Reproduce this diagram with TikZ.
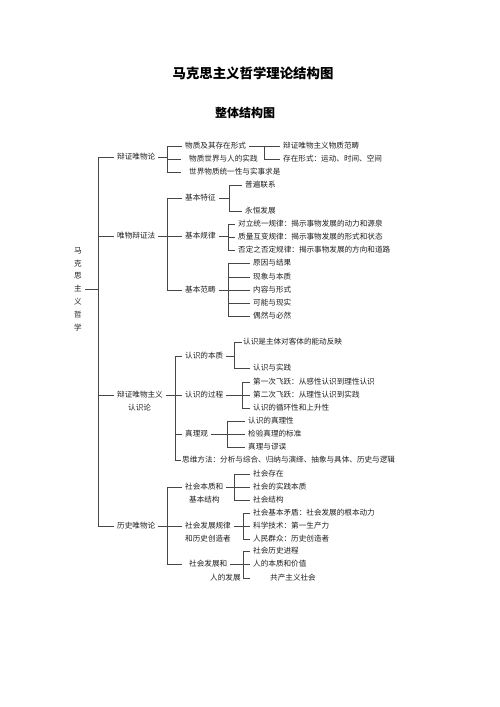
\documentclass[tikz,border=0pt]{standalone}
\usepackage{fontspec}
\newfontfamily\cjk{Noto Sans CJK SC}

\tikzset{
  lbl/.style={anchor=west, inner xsep=3pt, inner ysep=0pt, text height=6.2pt, text depth=0.6pt, text=black!88, font=\cjk\fontsize{7.6}{9}\selectfont},
  conn/.style={draw=black!72, line width=0.7pt},
}

\begin{document}
\begin{tikzpicture}[x=1pt,y=1pt,yscale=-1,xscale=1]
\useasboundingbox (0,0) rectangle (500,707);

% Text Node
\node [font=\cjk\bfseries\fontsize{13.4}{16}\selectfont] (title) at (253,73) {马克思主义哲学理论结构图};
% Text Node
\node [font=\cjk\bfseries\fontsize{12}{14}\selectfont] (subtitle) at (245,113) {整体结构图};
% Text Node
\node [align=center, inner sep=3pt, text=black!88, font=\cjk\fontsize{7.6}{12.8}\selectfont] (root) at (78,289) {马\\克\\思\\主\\义\\哲\\学};

% Text Node
\node [lbl] (dwl) at (114,157) {辩证唯物论};
\node [lbl] (wbf) at (114,236) {唯物辩证法};
\node [lbl] (rsl) at (114,395) {辩证唯物主义};
\node [lbl] (rslb) at (125,408) {认识论};
\node [lbl] (lsw) at (114,526) {历史唯物论};

% Text Node
\node [lbl] (wz) at (182,146) {物质及其存在形式};
\node [lbl] (wsj) at (186,159) {物质世界与人的实践};
\node [lbl] (wty) at (186,172) {世界物质统一性与实事求是};
\node [lbl] (fc) at (280,146) {辩证唯物主义物质范畴};
\node [lbl] (cz) at (280,159) {存在形式：运动、时间、空间};

% Text Node
\node [lbl] (tz) at (182,198) {基本特征};
\node [lbl] (gl) at (182,236) {基本规律};
\node [lbl] (fcb) at (182,290) {基本范畴};
\node [lbl] (pb) at (242,185) {普遍联系};
\node [lbl] (yh) at (242,211) {永恒发展};
\node [lbl] (dl) at (235,224) {对立统一规律：揭示事物发展的动力和源泉};
\node [lbl] (zb) at (235,237) {质量互变规律：揭示事物发展的形式和状态};
\node [lbl] (fd) at (235,250) {否定之否定规律：揭示事物发展的方向和道路};
\node [lbl] (yy) at (250,263) {原因与结果};
\node [lbl] (xx) at (250,277) {现象与本质};
\node [lbl] (nr) at (250,290) {内容与形式};
\node [lbl] (kn) at (250,303) {可能与现实};
\node [lbl] (oy) at (250,316) {偶然与必然};

% Text Node
\node [lbl] (bz) at (182,356) {认识的本质};
\node [lbl] (gc) at (182,395) {认识的过程};
\node [lbl] (zlg) at (182,434) {真理观};
\node [lbl] (swf) at (179,460) {思维方法：分析与综合、归纳与演绎、抽象与具体、历史与逻辑};
\node [lbl] (nd) at (240,342) {认识是主体对客体的能动反映};
\node [lbl] (rsj) at (250,368) {认识与实践};
\node [lbl] (dyc) at (250,382) {第一次飞跃：从感性认识到理性认识};
\node [lbl] (dec) at (250,395) {第二次飞跃：从理性认识到实践};
\node [lbl] (xh) at (250,408) {认识的循环性和上升性};
\node [lbl] (zlx) at (245,421) {认识的真理性};
\node [lbl] (jy) at (245,434) {检验真理的标准};
\node [lbl] (zm) at (245,447) {真理与谬误};

% Text Node
\node [lbl] (bzj) at (182,487) {社会本质和};
\node [lbl] (bzjb) at (186,500) {基本结构};
\node [lbl] (gz) at (182,526) {社会发展规律};
\node [lbl] (gzb) at (182,539) {和历史创造者};
\node [lbl] (fz) at (186,564) {社会发展和};
\node [lbl] (fzb) at (207,578) {人的发展};
\node [lbl] (shcz) at (250,474) {社会存在};
\node [lbl] (sjbz) at (250,487) {社会的实践本质};
\node [lbl] (shjg) at (250,500) {社会结构};
\node [lbl] (jbmd) at (250,513) {社会基本矛盾：社会发展的根本动力};
\node [lbl] (kxjs) at (250,526) {科学技术：第一生产力};
\node [lbl] (rmqz) at (250,539) {人民群众：历史创造者};
\node [lbl] (lsjc) at (250,551) {社会历史进程};
\node [lbl] (bzjz) at (250,564) {人的本质和价值};
\node [lbl] (gczy) at (267,578) {共产主义社会};

%Bracket columns
\coordinate (trunk) at (98,0);
\coordinate (bA) at (167,0);
\coordinate (bB) at (264,0);
\coordinate (bD) at (229,0);
\coordinate (bE) at (228,0);
\coordinate (bG) at (175,0);
\coordinate (bH) at (234,0);
\coordinate (bI) at (242,0);
\coordinate (bJ) at (227,0);
\coordinate (bM) at (243,0);

%Straight Lines: trunk
\draw [conn] (trunk |- dwl.west) -- (trunk |- lsw.west) ;
\draw [conn] (root.east) -- (trunk |- root.east) ;
\draw [conn] (trunk |- dwl.west) -- (dwl.west) (trunk |- wbf.west) -- (wbf.west) (trunk |- rsl.west) -- (rsl.west) (trunk |- lsw.west) -- (lsw.west) ;

%Straight Lines: 辩证唯物论
\draw [conn] (dwl.east) -- (bA |- dwl.east) ;
\draw [conn] (bA |- wz.west) -- (bA |- wty.west) ;
\draw [conn] (bA |- wz.west) -- (wz.west) (bA |- wsj.west) -- ([xshift=-5pt]wsj.west) (bA |- wty.west) -- ([xshift=-5pt]wty.west) ;
\draw [conn] (wz.east) -- (bB |- wz.east) ;
\draw [conn] (bB |- fc.west) -- (bB |- cz.west) ;
\draw [conn] (bB |- fc.west) -- (fc.west) (bB |- cz.west) -- (cz.west) ;

%Straight Lines: 唯物辩证法
\draw [conn] (wbf.east) -- (bA |- wbf.east) ;
\draw [conn] (bA |- tz.west) -- (bA |- fcb.west) ;
\draw [conn] (bA |- tz.west) -- (tz.west) (bA |- gl.west) -- (gl.west) (bA |- fcb.west) -- (fcb.west) ;
\draw [conn] (tz.east) -- (bD |- tz.east) ;
\draw [conn] (bD |- pb.west) -- (bD |- yh.west) ;
\draw [conn] (bD |- pb.west) -- (pb.west) (bD |- yh.west) -- (yh.west) ;
\draw [conn] (gl.east) -- (bE |- gl.east) ;
\draw [conn] (bE |- dl.west) -- (bE |- fd.west) ;
\draw [conn] (bE |- dl.west) -- (dl.west) (bE |- zb.west) -- (zb.west) (bE |- fd.west) -- (fd.west) ;
\draw [conn] (fcb.east) -- (bE |- fcb.east) ;
\draw [conn] (bE |- yy.west) -- (bE |- oy.west) ;
\draw [conn] (bE |- yy.west) -- (yy.west) (bE |- xx.west) -- (xx.west) (bE |- nr.west) -- (nr.west) (bE |- kn.west) -- (kn.west) (bE |- oy.west) -- (oy.west) ;

%Straight Lines: 辩证唯物主义认识论
\draw [conn] (rsl.east) -- (bG |- rsl.east) ;
\draw [conn] (bG |- bz.west) -- (bG |- swf.west) ;
\draw [conn] (bG |- bz.west) -- (bz.west) (bG |- gc.west) -- (gc.west) (bG |- zlg.west) -- (zlg.west) (bG |- swf.west) -- ([xshift=2pt]swf.west) ;
\draw [conn] (bz.east) -- (bH |- bz.east) ;
\draw [conn] (bH |- nd.west) -- (bH |- rsj.west) ;
\draw [conn] (bH |- nd.west) -- ([xshift=2pt]nd.west) (bH |- rsj.west) -- (rsj.west) ;
\draw [conn] (gc.east) -- (bI |- gc.east) ;
\draw [conn] (bI |- dyc.west) -- (bI |- xh.west) ;
\draw [conn] (bI |- dyc.west) -- (dyc.west) (bI |- dec.west) -- (dec.west) (bI |- xh.west) -- (xh.west) ;
\draw [conn] (zlg.east) -- (bJ |- zlg.east) ;
\draw [conn] (bJ |- zlx.west) -- (bJ |- zm.west) ;
\draw [conn] (bJ |- zlx.west) -- (zlx.west) (bJ |- jy.west) -- (jy.west) (bJ |- zm.west) -- (zm.west) ;

%Straight Lines: 历史唯物论
\draw [conn] (lsw.east) -- (bA |- lsw.east) ;
\draw [conn] (bA |- bzj.west) -- (bA |- fz.west) ;
\draw [conn] (bA |- bzj.west) -- (bzj.west) (bA |- gz.west) -- (gz.west) (bA |- fz.west) -- ([xshift=-4pt]fz.west) ;
\draw [conn] (bzj.east) -- (bH |- bzj.east) ;
\draw [conn] (bH |- shcz.west) -- (bH |- shjg.west) ;
\draw [conn] (bH |- shcz.west) -- (shcz.west) (bH |- sjbz.west) -- (sjbz.west) (bH |- shjg.west) -- (shjg.west) ;
\draw [conn] (gz.east) -- (bM |- gz.east) ;
\draw [conn] (bM |- jbmd.west) -- (bM |- rmqz.west) ;
\draw [conn] (bM |- jbmd.west) -- (jbmd.west) (bM |- kxjs.west) -- (kxjs.west) (bM |- rmqz.west) -- (rmqz.west) ;
\draw [conn] (fz.east) -- (bM |- fz.east) ;
\draw [conn] (bM |- lsjc.west) -- (bM |- gczy.west) ;
\draw [conn] (bM |- lsjc.west) -- (lsjc.west) (bM |- bzjz.west) -- (bzjz.west) (bM |- gczy.west) -- ++(7,0) ;

\end{tikzpicture}
\end{document}
